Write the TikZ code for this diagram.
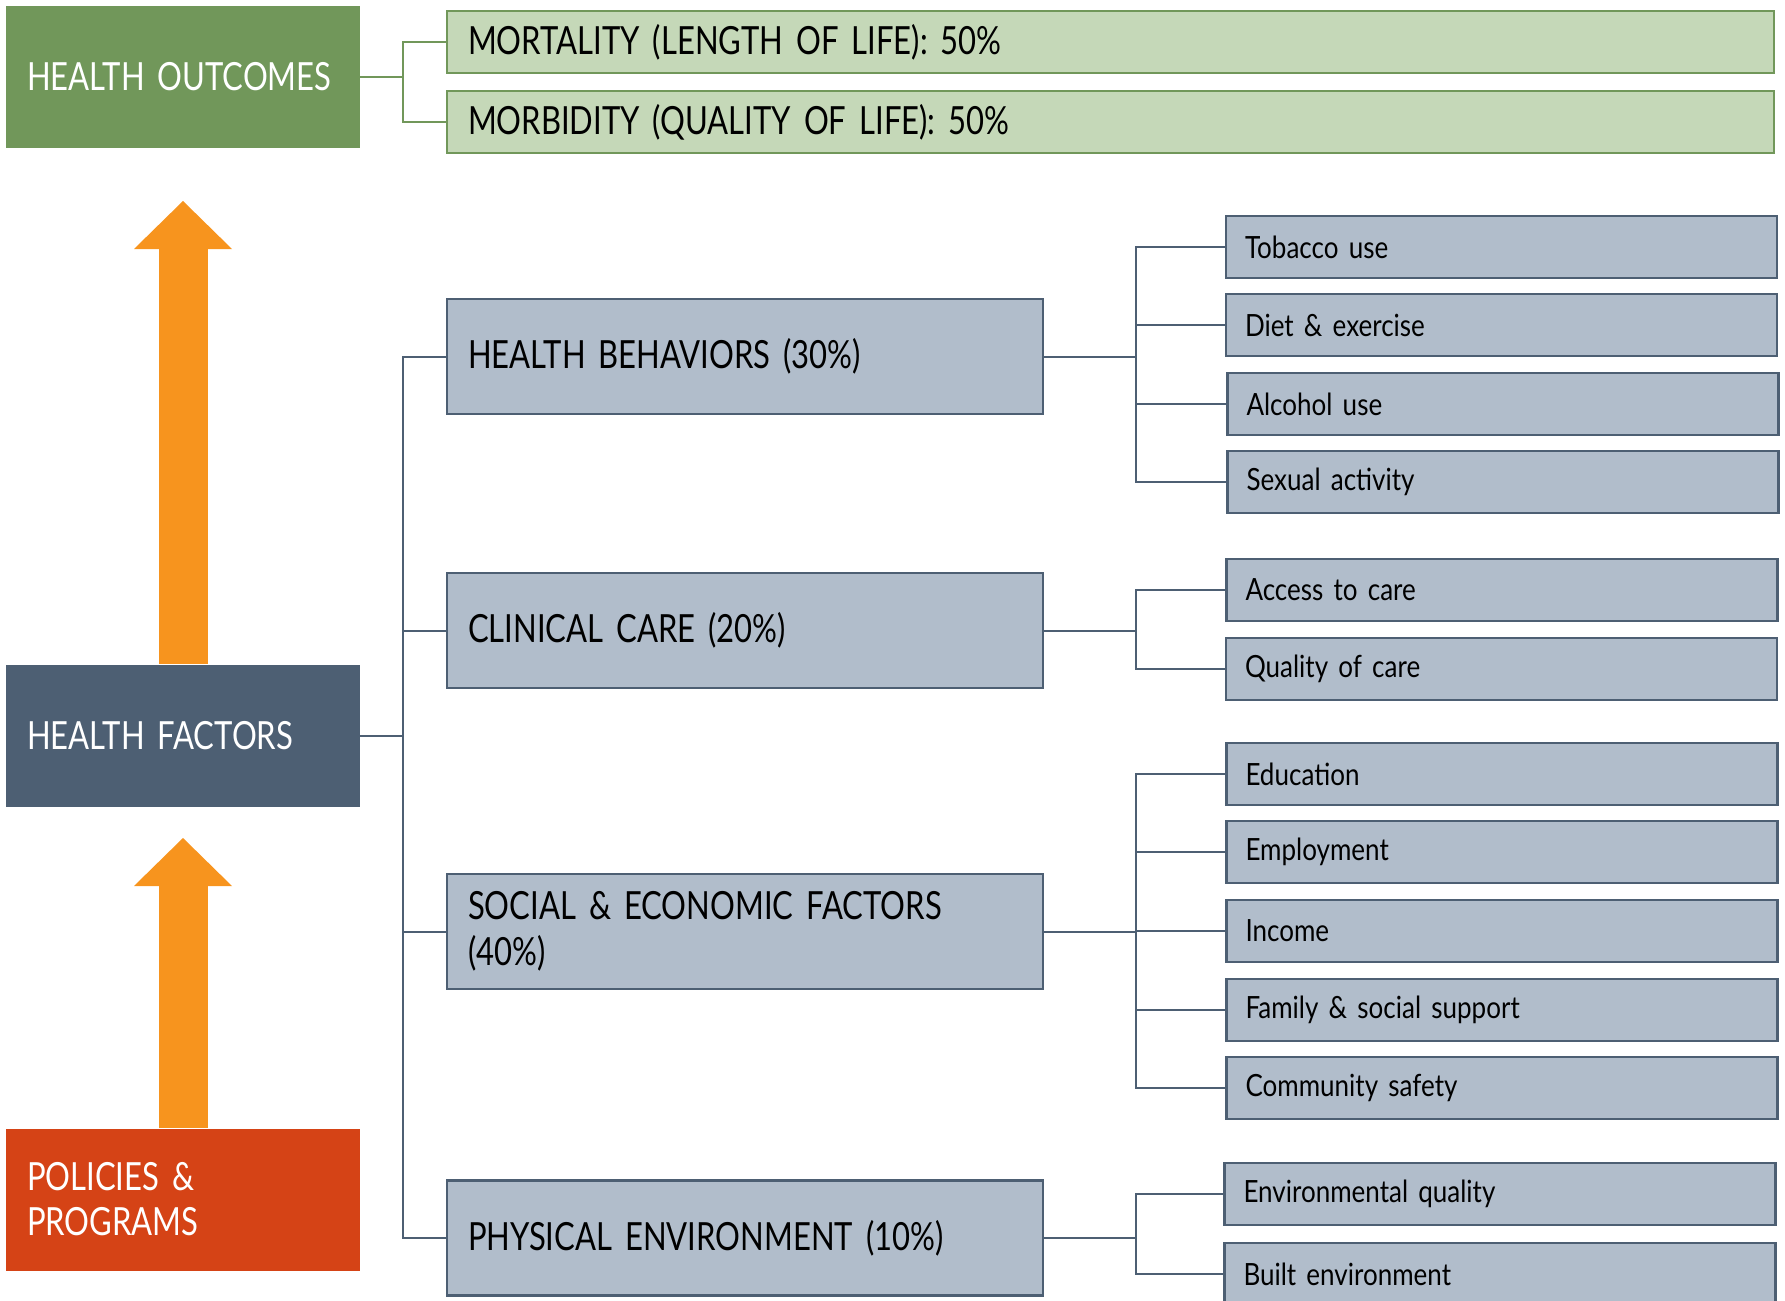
\documentclass[tikz,border=0pt]{standalone}
\usepackage{fontspec}
\setmainfont{Lato}[FakeStretch=0.85,WordSpace=0.85]
\newfontfamily\headfont{Lato}[FakeStretch=0.8,WordSpace=0.85]
\usepackage{tikz}
\usetikzlibrary{arrows.meta}

\definecolor{outgreen}{HTML}{71975A}
\definecolor{outlight}{HTML}{C5D8B8}
\definecolor{factslate}{HTML}{4D5F73}
\definecolor{factlight}{HTML}{B1BDCB}
\definecolor{uporange}{HTML}{F7941E}
\definecolor{polred}{HTML}{D54316}

\tikzset{
  bigbox/.style={rectangle,inner xsep=10.5pt,inner ysep=0pt,minimum width=177pt,
    minimum height=71pt,text width=156pt,align=left,text=white,
    font=\headfont\fontsize{19.4}{22.5}\selectfont},
  outbox/.style={rectangle,draw=outgreen,line width=1.3pt,fill=outlight,inner xsep=10.5pt,
    minimum width=663.5pt,minimum height=31pt,text width=642.5pt,align=left,
    font=\headfont\fontsize{19.4}{22.5}\selectfont},
  midbox/.style={rectangle,draw=factslate,line width=1.2pt,fill=factlight,inner xsep=10.5pt,
    minimum width=298pt,minimum height=57.5pt,text width=277pt,align=left,
    font=\headfont\fontsize{19.4}{22.8}\selectfont},
  subbox/.style={rectangle,draw=factslate,line width=1.2pt,fill=factlight,inner xsep=9.5pt,
    minimum width=275.5pt,minimum height=31pt,text width=256.5pt,align=left,
    font=\fontsize{15.3}{18}\selectfont},
  greenline/.style={draw=outgreen,line width=1pt},
  slateline/.style={draw=factslate,line width=1pt},
  bigarrow/.style={draw=uporange,line width=24.5pt,
    -{Triangle[width=49pt,length=24pt,line width=0pt]}}
}

\begin{document}
\begin{tikzpicture}[x=0.5pt,y=-0.5pt]
  \useasboundingbox (0,0) rectangle (1785,1301);

  % left column
  \node[bigbox,fill=outgreen] (ho) at (183,77) {\mbox{HEALTH OUTCOMES}};
  \node[bigbox,fill=factslate] (hf) at (183,735.5) {HEALTH FACTORS};
  \node[bigbox,fill=polred] (pp) at (183,1199.5) {POLICIES \&\\PROGRAMS};
  \coordinate (tipa) at (183,201);
  \coordinate (tipb) at (183,838);
  \draw[bigarrow] (hf.north) -- (tipa);
  \draw[bigarrow] (pp.north) -- (tipb);

  % outcomes
  \node[outbox] (mort) at (1110.5,42) {MORTALITY (LENGTH OF LIFE): 50\%};
  \node[outbox] (morb) at (1110.5,122) {MORBIDITY (QUALITY OF LIFE): 50\%};
  \coordinate (hoj) at ([xshift=21.5pt]ho.east);
  \draw[greenline] (ho.east) -- (hoj) |- (mort.west);
  \draw[greenline] (hoj) |- (morb.west);

  % factors
  \node[midbox] (hb) at (745,356.5) {HEALTH BEHAVIORS (30\%)};
  \node[midbox] (cc) at (745,630.5) {CLINICAL CARE (20\%)};
  \node[midbox] (se) at (745,931.5) {SOCIAL \& ECONOMIC FACTORS\\(40\%)};
  \node[midbox] (pe) at (745,1238) {PHYSICAL ENVIRONMENT (10\%)};
  \coordinate (hfj) at ([xshift=21.5pt]hf.east);
  \draw[slateline] (hf.east) -- (hfj);
  \draw[slateline] (hfj) |- (hb.west);
  \draw[slateline] (hfj) |- (cc.west);
  \draw[slateline] (hfj) |- (se.west);
  \draw[slateline] (hfj) |- (pe.west);

  % health behaviors
  \node[subbox] (tob) at (1501.5,247) {Tobacco use};
  \node[subbox] (diet) at (1501.5,325) {Diet \& exercise};
  \node[subbox] (alc) at (1503,404) {Alcohol use};
  \node[subbox] (sex) at (1503,482) {Sexual activity};
  \coordinate (hbj) at ([xshift=46pt]hb.east);
  \draw[slateline] (hb.east) -- (hbj);
  \draw[slateline] (hbj) |- (tob.west);
  \draw[slateline] (hbj) |- (diet.west);
  \draw[slateline] (hbj) |- (alc.west);
  \draw[slateline] (hbj) |- (sex.west);

  % clinical care
  \node[subbox] (acc) at (1502,590) {Access to care};
  \node[subbox] (qua) at (1501.5,669) {Quality of care};
  \coordinate (ccj) at ([xshift=46pt]cc.east);
  \draw[slateline] (cc.east) -- (ccj);
  \draw[slateline] (ccj) |- (acc.west);
  \draw[slateline] (ccj) |- (qua.west);

  % social and economic
  \node[subbox] (edu) at (1502,774) {Education};
  \node[subbox] (emp) at (1502,852) {Employment};
  \node[subbox] (inc) at (1502,931) {Income};
  \node[subbox] (fam) at (1502,1010) {Family \& social support};
  \node[subbox] (com) at (1502,1088) {Community safety};
  \coordinate (sej) at ([xshift=46pt]se.east);
  \draw[slateline] (se.east) -- (sej);
  \draw[slateline] (sej) |- (edu.west);
  \draw[slateline] (sej) |- (emp.west);
  \draw[slateline] (sej) |- (inc.west);
  \draw[slateline] (sej) |- (fam.west);
  \draw[slateline] (sej) |- (com.west);

  % physical environment
  \node[subbox] (env) at (1500,1194) {Environmental quality};
  \node[subbox] (blt) at (1500,1274) {Built environment};
  \coordinate (pej) at ([xshift=46pt]pe.east);
  \draw[slateline] (pe.east) -- (pej);
  \draw[slateline] (pej) |- (env.west);
  \draw[slateline] (pej) |- (blt.west);
\end{tikzpicture}
\end{document}
